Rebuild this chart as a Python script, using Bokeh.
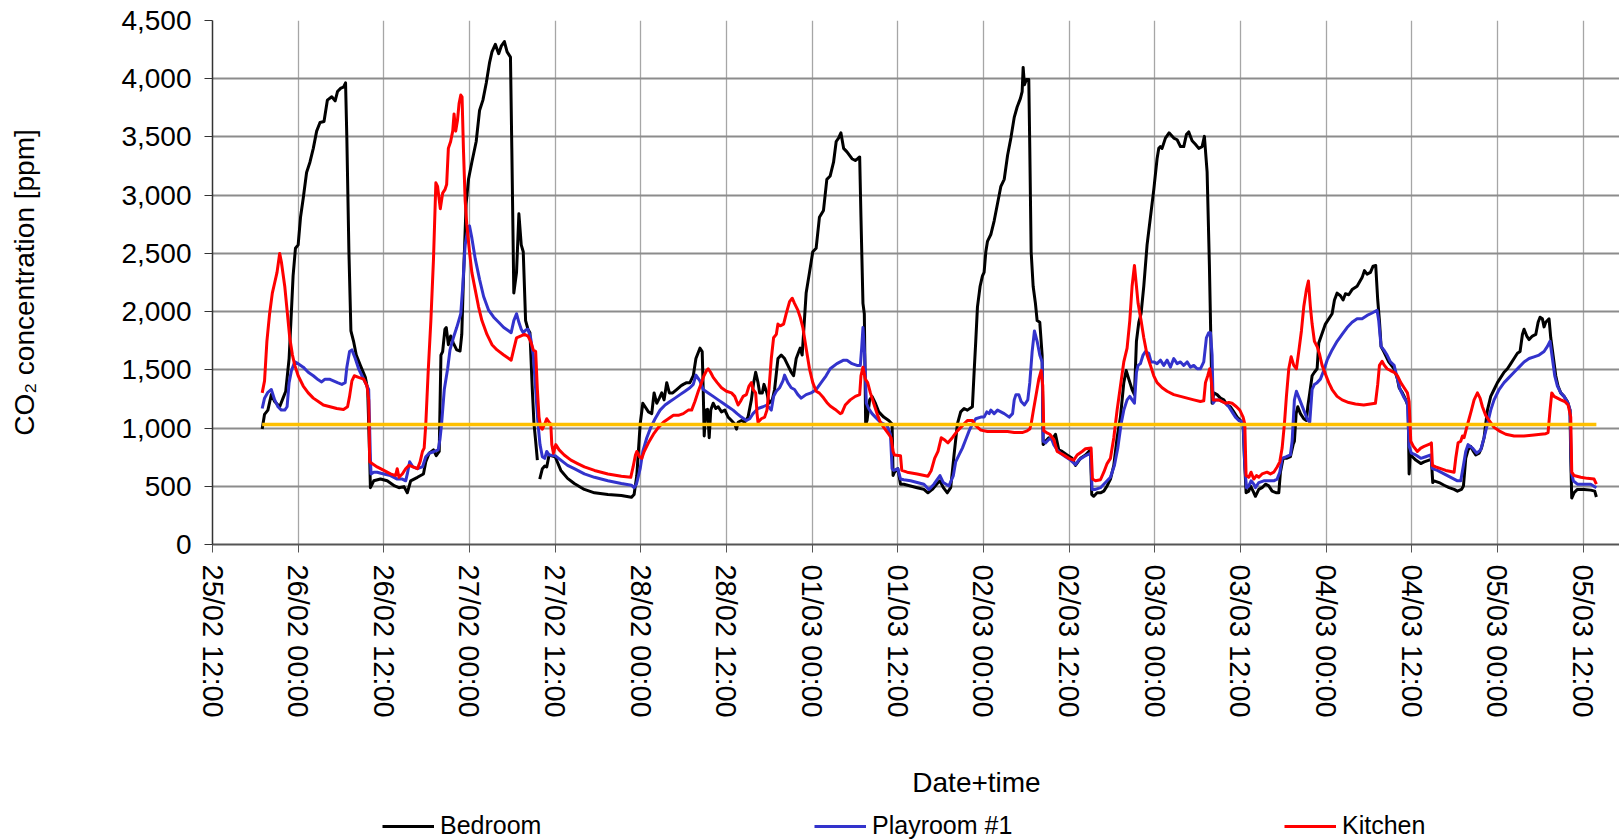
import math
import numpy as np
from bokeh.plotting import figure
from bokeh.layouts import column
from bokeh.models import (Range1d, FixedTicker, NumeralTickFormatter, Legend,
                          LegendItem, Label)
from bokeh.embed import file_html
from bokeh.resources import INLINE

# ---------------- data ----------------
# time axis: hours after 25/02 12:00
tick_hours = [0, 12, 24, 36, 48, 60, 72, 84, 96, 108, 120, 132, 144, 156, 168, 180, 192]
tick_labels = ["25/02 12:00", "26/02 00:00", "26/02 12:00", "27/02 00:00", "27/02 12:00",
               "28/02 00:00", "28/02 12:00", "01/03 00:00", "01/03 12:00", "02/03 00:00",
               "02/03 12:00", "03/03 00:00", "03/03 12:00", "04/03 00:00", "04/03 12:00",
               "05/03 00:00", "05/03 12:00"]
y_ticks = [0, 500, 1000, 1500, 2000, 2500, 3000, 3500, 4000, 4500]

NaN = float("nan")

bedroom_hours = [
    6.96, 7.29, 7.76, 8.24, 8.71, 9.41, 9.88, 10.26, 10.73, 11.06, 11.29, 11.62, 12.0, 12.33,
    12.71, 13.18, 13.65, 14.12, 14.59, 15.06, 15.62, 16.09, 16.71, 17.18, 17.51, 17.98, 18.35,
    18.64, 18.82, 19.11, 19.39, 19.76, 20.14, 20.71, 21.41, 21.74, 22.02, 22.12, 22.59, 23.53,
    24.47, 25.51, 26.12, 26.82, 27.29, 27.76, 28.71, 29.55, 29.88, 30.35, 30.96, 31.34, 31.76,
    32.0, 32.24, 32.56, 32.75, 33.04, 33.36, 33.74, 34.21, 34.68, 34.92, 35.15, 35.53, 35.86,
    36.33, 36.94, 37.41, 37.88, 38.35, 38.82, 39.15, 39.62, 40.09, 40.47, 40.89, 41.27, 41.74,
    41.93, 42.21, 42.59, 42.92, 43.25, 43.53, 43.86, 44.19, 44.47, 44.80, 45.04, 45.27, 45.51,
    45.67,
    45.84, 46.21, 46.54, 46.82, 47.15, 48.0, 48.8, 49.74, 50.68, 52.09, 53.51, 55.39, 57.27,
    58.68, 59.06, 59.44, 59.91, 60.28, 60.6, 61.07, 61.53, 61.86, 62.23, 62.6, 62.93, 63.26,
    63.63, 64.0, 64.47, 65.02, 65.58, 65.95, 66.42, 66.88, 67.35, 67.72, 68.28, 68.6, 68.74,
    68.88, 69.1, 69.35, 69.58, 69.8, 70.14, 70.51, 70.84, 71.3, 71.77, 72.23, 72.7, 73.16, 73.4,
    73.63, 74.09, 74.56, 75.02, 75.49, 75.81, 76.09, 76.42, 76.65, 77.02, 77.26, 77.67, 77.95,
    78.42, 78.74, 79.21, 79.67, 80.14, 80.6, 81.07, 81.4, 81.77, 82.14, 82.33, 82.6, 82.79,
    83.16, 83.63, 84.09, 84.56, 85.02, 85.59, 86.06, 86.53, 87.0, 87.37, 87.7, 88.03, 88.41,
    88.88, 89.58, 90.05, 90.37, 90.66, 90.84, 91.12, 91.31, 91.5, 91.69, 92.06, 92.39, 92.86,
    93.33, 94.03, 94.73, 95.2, 95.34, 95.53, 96.0, 96.38, 96.84, 97.78, 98.72, 99.66, 100.22,
    100.83, 101.44, 101.91, 102.38, 102.94, 103.41, 103.88, 104.35, 104.81, 105.28, 105.75,
    106.45, 106.69, 106.92, 107.16, 107.53, 107.86, 108.09, 108.33, 108.56, 109.03, 109.5,
    109.97, 110.44, 110.91, 111.38, 111.84, 112.31, 112.72, 113.18, 113.42, 113.56, 113.74,
    114.02, 114.35, 114.49, 114.68, 114.96, 115.28, 115.52, 115.89, 116.22, 116.36, 116.69,
    117.15, 117.62, 118.09, 118.55, 119.02, 119.72, 120.42, 120.89, 121.59, 122.29, 122.99,
    123.17, 123.45, 123.92, 124.39, 124.86, 125.32, 125.79, 126.26, 126.72, 127.19, 127.66,
    127.99, 128.36, 128.82, 129.15, 129.43, 129.76, 130.08, 130.46, 130.92, 131.39, 131.86,
    132.32, 132.56, 132.79, 133.02, 133.49, 134.0, 134.66, 135.13, 135.6, 136.06, 136.43,
    136.76, 137.23, 137.69, 138.16, 138.63, 138.95, 139.33, 139.65, 140.03, 140.27, 140.73,
    141.2, 141.67, 142.13, 142.6, 143.07, 143.53, 144.0, 144.37, 144.56, 144.79, 145.17, 145.4,
    145.77, 146.1, 146.57, 147.03, 147.5, 147.97, 148.44, 149.04, 149.37, 149.6, 149.98,
    150.44, 151.0, 151.38, 151.56, 151.8, 152.03, 152.4, 152.87, 153.24, 153.43, 153.71,
    154.04, 154.36, 154.74, 154.97, 155.9, 156.84, 157.17, 157.54, 158.01, 158.38, 158.71,
    159.17, 159.64, 160.34, 161.04, 161.37, 161.74, 162.21, 162.58, 162.95, 163.23, 163.47,
    163.7, 164.08, 164.77, 165.53, 166.0, 166.23, 166.69, 167.16, 167.49, 167.63, 167.77,
    168.09, 168.56, 169.26, 169.73, 170.43, 170.75, 170.94, 171.13, 171.83, 172.53, 173.23,
    173.93, 174.4, 174.96, 175.24, 175.56, 175.89, 176.26, 176.64, 176.96, 177.43, 177.76,
    178.13, 178.36, 178.6, 179.06, 179.53, 180.0, 180.47, 180.93, 181.4, 181.87, 182.33, 182.8,
    183.17, 183.5, 183.73, 184.11, 184.44, 184.9, 185.37, 185.7, 185.97, 186.3, 186.53, 186.77,
    187.0, 187.23, 187.47, 187.79, 188.17, 188.49, 188.87, 189.33, 189.8, 190.17, 190.27,
    190.41, 190.73, 191.2, 192.14, 193.07, 193.63, 193.86]
bedroom_ppm = [
    991, 1118, 1154, 1287, 1228, 1183, 1257, 1316, 1597, 2011, 2307, 2544, 2573, 2810,
    2973, 3195, 3283, 3402, 3550, 3624, 3632, 3816, 3845, 3810, 3890, 3919, 3928,
    3964, 3490, 2514, 1834, 1745, 1627, 1538, 1435, 1331, 740, 488, 547, 562,
    547, 503, 488, 497, 444, 547, 577, 606, 710, 784, 813, 763, 799,
    1627, 1657, 1849, 1863, 1716, 1790, 1730, 1671, 1662, 1804, 2278, 2928, 3136,
    3283, 3461, 3727, 3816, 3964, 4141, 4230, 4295, 4215, 4283, 4319, 4230, 4186,
    3402, 2159, 2337, 2840, 2573, 2514, 1923, 1849, 1819, 1331, 1035, 887, 725,
    NaN,
    562, 651, 674, 666, 769, 754, 636, 568, 524, 473, 444, 429, 420,
    405, 429, 592, 1035, 1213, 1183, 1139, 1124, 1302, 1213, 1257, 1302, 1242,
    1390, 1302, 1302, 1331, 1361, 1375, 1390, 1390, 1449, 1597, 1686, 1657, 1331,
    932, 1154, 1160, 917, 1154, 1213, 1168, 1183, 1139, 1154, 1094, 1065, 1035, 991,
    1050, 1065, 1050, 1094, 1242, 1390, 1479, 1390, 1302, 1302, 1375, 1302, 1213,
    1242, 1331, 1597, 1627, 1597, 1538, 1479, 1449, 1597, 1657, 1686, 1627, 1804,
    2159, 2337, 2514, 2544, 2810, 2869, 3136, 3165, 3283, 3461, 3490, 3535, 3402,
    3372, 3313, 3298, 3313, 3328, 2810, 2071, 1982, 1035, 1065, 1242, 1272, 1213,
    1139, 1094, 1065, 1035, 592, 621, 651, 518, 518, 503, 488, 473, 444,
    473, 518, 547, 488, 444, 488, 769, 1035, 1139, 1168, 1154,
    1183, 1479, 1745, 2041, 2218, 2307, 2337, 2514, 2603, 2662, 2780,
    2928, 3076, 3136, 3343, 3490, 3668, 3757, 3831, 3890, 4097, 3949,
    3993, 3993, 3402, 2514, 2218, 2071, 1923, 1908, 1627, 858, 887,
    917, 902, 947, 813, 799, 769, 740, 680, 740, 769, 813,
    429, 414, 444, 444, 458, 503, 562, 680, 917, 1094, 1390,
    1494, 1420, 1331, 1287, 1745, 1908, 1982, 2218, 2573, 2810, 3047,
    3313, 3402, 3417, 3402, 3490, 3535, 3490, 3476, 3417, 3417, 3520,
    3543, 3467, 3437, 3402, 3417, 3505, 3200, 2400, 1213, 1302, 1287,
    1257, 1242, 1198, 1183, 1139, 1094, 1065, 1035, 740, 444, 458, 503,
    458, 414, 473, 488, 518, 503, 458, 444, 444, 621, 740,
    740, 754, 858, 887, 1124, 1183, 1124, 1080, 1065, 1183, 1302,
    1449, 1479, 1509, 1730, 1893, 1982, 2100, 2159, 2136, 2100, 2153,
    2145, 2189, 2218, 2292, 2352, 2322, 2337, 2390, 2396, 2100, 1923,
    1701, 1657, 1568, 1509, 1420, 1346, 1302, 1242, 1183, 606, 769,
    754, 725, 695, 710, 725, 725, 532, 547, 532, 509, 488,
    473, 458, 473, 503, 740, 813, 843, 799, 769, 784, 828,
    917, 1035, 1154, 1272, 1331, 1390, 1435, 1479, 1509, 1553, 1597, 1642,
    1657, 1804, 1849, 1790, 1760, 1790, 1804, 1908, 1952, 1938, 1869, 1908,
    1923, 1938, 1775, 1627, 1449, 1361, 1302, 1272, 1228, 1154, 740,
    399, 444, 473, 473, 467, 458, 408]

playroom_hours = [
    6.96, 7.29, 7.76, 8.24, 8.71, 9.18, 9.65, 10.12, 10.45, 10.73, 11.06, 11.53, 12.0, 12.71,
    13.41, 14.12, 14.82, 15.29, 15.76, 16.38, 16.94, 17.51, 18.12, 18.59, 18.82, 19.2, 19.53,
    20.0, 20.47, 20.94, 21.41, 21.88, 22.12, 22.21, 22.59, 23.06, 24.0, 24.94, 25.88, 26.59,
    27.06, 27.29, 27.62, 28.09, 28.71, 29.41, 29.88, 30.35, 31.06, 31.62, 31.86, 32.09, 32.47,
    32.94, 33.27, 33.74, 34.21, 34.78, 35.06, 35.39, 35.72, 36.0, 36.33, 36.8, 37.41, 37.98,
    38.68, 39.39, 40.09, 40.8, 41.51, 41.84, 42.21, 42.59, 42.92, 43.25, 43.53, 43.86, 44.19,
    44.56, 44.94, 45.27, 45.6, 45.88, 46.21, 46.54, 46.82, 47.15, 48.0, 48.8, 49.74, 50.68,
    52.09, 53.51, 55.39, 57.27, 58.68, 59.06, 59.39, 59.91, 60.28, 60.84, 61.4, 62.0, 62.7,
    63.4, 64.09, 64.79, 65.49, 66.19, 66.88, 67.35, 67.72, 68.28, 68.74, 69.44, 70.14, 70.84,
    71.53, 72.23, 72.93, 73.49, 74.09, 74.79, 75.26, 75.72, 76.42, 77.12, 77.67, 78.28, 78.6,
    78.98, 79.44, 79.91, 80.14, 80.6, 81.07, 81.53, 82.0, 82.47, 83.16, 83.86, 84.56, 85.26,
    85.95, 86.53, 87.47, 88.41, 88.88, 89.58, 90.28, 90.75, 90.94, 91.12, 91.36, 91.59, 91.92,
    92.39, 92.86, 93.56, 94.5, 94.97, 95.2, 95.44, 96.0, 96.38, 96.84, 97.78, 98.72, 99.66,
    100.36, 101.06, 101.91, 102.38, 103.17, 103.78, 104.11, 104.58, 105.05, 105.52, 105.99,
    106.45, 106.92, 107.63, 108.09, 108.47, 108.8, 109.03, 109.5, 109.97, 110.44, 110.91,
    111.61, 112.08, 112.31, 112.55, 112.95, 113.28, 113.74, 114.21, 114.49, 114.82, 115.14,
    115.52, 115.89, 116.22, 116.36, 116.69, 117.15, 117.48, 117.85, 118.32, 118.79, 119.49,
    120.19, 120.89, 121.35, 122.05, 122.99, 123.22, 123.69, 124.39, 125.09, 125.79, 126.35,
    126.82, 127.28, 127.66, 128.12, 128.5, 128.82, 129.15, 129.43, 129.66, 129.99, 130.36,
    130.69, 131.16, 131.48, 131.86, 132.32, 132.79, 133.26, 133.73, 134.19, 134.66, 135.13,
    135.6, 136.06, 136.53, 137.0, 137.46, 137.93, 138.39, 138.86, 139.23, 139.56, 139.8,
    140.03, 140.17, 140.5, 140.97, 141.43, 141.9, 142.37, 142.83, 143.3, 143.77, 144.37,
    144.61, 144.84, 145.17, 145.49, 145.87, 146.1, 146.57, 147.27, 147.97, 148.67, 149.14,
    149.51, 149.84, 150.44, 151.0, 151.24, 151.56, 151.84, 152.31, 152.87, 153.34, 153.71,
    154.04, 154.36, 154.74, 155.2, 155.67, 156.14, 156.84, 157.54, 158.24, 158.94, 159.64,
    160.34, 161.04, 161.74, 162.44, 163.14, 163.37, 163.7, 164.08, 164.54, 165.01, 165.53,
    166.0, 166.37, 166.83, 167.39, 167.63, 167.95, 168.56, 169.26, 169.96, 170.66, 170.89,
    171.59, 172.53, 173.46, 174.4, 174.86, 175.24, 175.56, 175.89, 176.5, 177.1, 177.66,
    178.13, 178.6, 179.06, 179.53, 180.23, 180.93, 181.64, 182.33, 183.03, 183.73, 184.44,
    185.13, 185.83, 186.53, 187.0, 187.37, 187.7, 188.03, 188.4, 188.87, 189.33, 189.9,
    190.17, 190.36, 190.64, 191.2, 192.14, 193.07, 193.86]
playroom_ppm = [
    1168, 1257, 1307, 1331, 1242, 1183, 1154, 1154, 1183, 1390, 1494, 1568, 1553, 1523,
    1479, 1449, 1414, 1396, 1420, 1420, 1405, 1390, 1375, 1390, 1523, 1657, 1671,
    1597, 1509, 1449, 1390, 1331, 740, 606, 621, 621, 606, 592, 562, 562,
    547, 606, 710, 666, 651, 666, 754, 784, 799, 813, 902, 1035, 1331,
    1509, 1671, 1775, 1863, 1982, 2218, 2573, 2692, 2736, 2633, 2455, 2277, 2130,
    2012, 1952, 1908, 1863, 1834, 1819, 1923, 1982, 1908, 1849, 1819, 1840, 1849,
    1775, 1627, 1331, 1035, 858, 754, 740, 799, 769, 763, 725, 680, 651,
    606, 577, 547, 524, 509, 488, 518, 651, 799, 917, 1006, 1080, 1154,
    1198, 1228, 1257, 1287, 1316, 1346, 1375, 1455, 1405, 1331, 1302, 1272, 1242,
    1213, 1183, 1154, 1124, 1094, 1065, 1080, 1124, 1168, 1183, 1198, 1154, 1272,
    1316, 1346, 1405, 1455, 1390, 1346, 1331, 1287, 1257, 1287, 1302, 1331, 1390,
    1449, 1509, 1553, 1583, 1583, 1553, 1538, 1538, 1686, 1863, 1627, 1213, 1168,
    1124, 1094, 1050, 1021, 947, 651, 636, 651, 562, 556, 547, 532, 518,
    473, 518, 592, 532, 503, 592, 710, 769, 828, 902, 976,
    1035, 1080, 1094, 1094, 1139, 1124, 1154, 1124, 1154, 1139, 1124,
    1094, 1124, 1242, 1287, 1287, 1228, 1198, 1242, 1390, 1657, 1834,
    1745, 1627, 1568, 887, 873, 902, 917, 858, 813, 784, 754,
    725, 686, 725, 754, 784, 473, 473, 488, 532, 577, 680,
    828, 1035, 1154, 1242, 1272, 1242, 1213, 1479, 1538, 1553, 1627,
    1657, 1642, 1568, 1568, 1553, 1583, 1538, 1583, 1523, 1597, 1553,
    1568, 1538, 1568, 1523, 1538, 1509, 1509, 1568, 1775, 1819, 1819,
    1627, 1213, 1242, 1242, 1228, 1213, 1183, 1139, 1094, 1065, 1050,
    680, 488, 503, 547, 518, 488, 532, 547, 547, 547, 562,
    621, 740, 754, 769, 887, 1242, 1316, 1242, 1154, 1080, 1050,
    1331, 1375, 1390, 1420, 1494, 1583, 1671, 1745, 1804, 1863, 1908,
    1938, 1938, 1967, 1988, 2012, 1923, 1701, 1671, 1627, 1568, 1538,
    1420, 1331, 1272, 1213, 843, 784, 769, 740, 754, 769, 651,
    636, 606, 577, 547, 547, 680, 799, 858, 828, 784, 813,
    917, 1035, 1154, 1242, 1331, 1390, 1435, 1479, 1523, 1568, 1597,
    1612, 1627, 1657, 1701, 1745, 1597, 1449, 1361, 1302, 1272, 1213,
    1154, 621, 547, 518, 518, 518, 488]

kitchen_hours = [
    6.96, 7.29, 7.62, 8.0, 8.38, 8.71, 9.04, 9.41, 9.65, 10.12, 10.45, 10.82, 11.2, 11.53, 12.0,
    12.71, 13.41, 14.12, 14.82, 15.53, 16.47, 17.41, 18.35, 18.92, 19.2, 19.53, 19.86, 20.47,
    21.18, 21.65, 21.88, 22.02, 22.35, 23.06, 24.0, 24.94, 25.65, 25.88, 26.12, 26.59, 27.06,
    27.53, 28.09, 28.71, 29.08, 29.41, 29.65, 29.88, 30.21, 30.59, 30.96, 31.29, 31.53, 31.91,
    32.24, 32.56, 32.8, 33.04, 33.36, 33.65, 33.84, 34.07, 34.31, 34.54, 34.78, 34.96, 35.15,
    35.39, 35.62, 36.0, 36.33, 36.8, 37.27, 37.74, 38.45, 39.15, 39.86, 40.8, 41.51, 41.84,
    42.12, 42.59, 43.15, 43.72, 44.19, 44.56, 44.94, 45.27, 45.51, 45.74, 45.98, 46.21, 46.54,
    46.82, 47.15, 47.39, 47.53, 47.76, 48.09, 48.56, 49.27, 50.21, 51.15, 52.09, 53.51, 55.39,
    57.27, 58.59, 58.92, 59.25, 59.44, 59.81, 60.14, 60.47, 61.07, 61.77, 62.47, 63.16, 63.86,
    64.56, 65.26, 65.95, 66.65, 67.12, 67.58, 68.05, 68.51, 68.84, 69.21, 69.44, 69.77, 70.14,
    70.7, 71.3, 72.0, 72.7, 73.16, 73.63, 73.95, 74.33, 74.79, 75.16, 75.49, 75.72, 76.09,
    76.28, 76.42, 76.88, 77.35, 77.67, 77.95, 78.28, 78.6, 78.98, 79.21, 79.53, 80.0, 80.37,
    80.84, 81.21, 81.53, 82.0, 82.33, 82.7, 83.16, 83.63, 84.09, 84.56, 85.02, 85.59, 86.06,
    86.53, 87.23, 87.94, 88.17, 88.64, 89.34, 90.05, 90.66, 90.84, 91.12, 91.45, 91.78, 92.16,
    92.62, 93.09, 93.56, 94.03, 94.73, 95.06, 95.34, 95.53, 96.38, 96.56, 97.31, 98.72, 100.22,
    100.69, 101.16, 101.63, 102.09, 102.47, 103.03, 103.64, 104.35, 105.05, 105.75, 106.45,
    106.92, 107.63, 108.56, 109.97, 111.38, 112.31, 113.42, 114.12, 114.49, 114.68, 114.96,
    115.42, 115.75, 116.08, 116.31, 116.45, 116.83, 117.29, 117.85, 118.32, 118.79, 119.25,
    119.95, 120.65, 121.12, 121.82, 122.29, 123.08, 123.27, 123.69, 124.39, 124.86, 125.32,
    125.79, 126.26, 126.72, 127.19, 127.66, 128.12, 128.5, 128.82, 129.15, 129.43, 129.66,
    130.08, 130.46, 130.92, 131.39, 131.86, 132.32, 133.03, 133.73, 134.66, 135.6, 136.53,
    137.46, 138.39, 138.86, 139.1, 139.42, 139.7, 139.94, 140.17, 140.97, 141.43, 141.9,
    142.37, 142.83, 143.44, 143.91, 144.37, 144.61, 144.79, 145.17, 145.49, 145.87, 146.24,
    146.57, 147.03, 147.73, 148.2, 148.67, 149.14, 149.51, 149.84, 150.16, 150.44, 150.77,
    151.1, 151.47, 151.84, 152.17, 152.54, 152.87, 153.24, 153.52, 153.8, 154.04, 154.36,
    154.74, 155.11, 155.44, 155.9, 156.37, 156.84, 157.54, 158.24, 159.17, 160.11, 161.27,
    162.21, 162.91, 163.23, 163.47, 163.84, 164.17, 164.54, 165.01, 165.53, 166.0, 166.46,
    166.93, 167.39, 167.63, 167.86, 168.23, 168.79, 169.26, 169.73, 170.57, 170.75, 170.89,
    171.36, 172.06, 172.76, 173.46, 173.93, 174.16, 174.49, 174.86, 175.1, 175.33, 175.7,
    176.03, 176.36, 176.73, 177.2, 177.57, 177.9, 178.36, 178.83, 179.53, 180.23, 181.17,
    182.33, 183.73, 185.13, 186.07, 186.77, 187.09, 187.37, 187.61, 187.93, 188.4, 188.87,
    189.43, 189.9, 190.27, 190.41, 190.73, 191.67, 192.6, 193.54, 193.86]
kitchen_ppm = [
    1302, 1405, 1745, 1982, 2159, 2248, 2337, 2500, 2426, 2218, 2011, 1775, 1627, 1538, 1449,
    1361, 1302, 1257, 1228, 1198, 1183, 1168, 1160, 1183, 1272, 1405, 1449, 1435,
    1420, 1361, 1242, 710, 695, 666, 636, 606, 592, 651, 577, 606, 651,
    680, 666, 651, 710, 799, 828, 1035, 1479, 1923, 2455, 3106, 3076, 2884,
    3017, 3047, 3091, 3402, 3461, 3550, 3698, 3550, 3638, 3786, 3860, 3845, 3402,
    2958, 2751, 2514, 2337, 2189, 2041, 1923, 1804, 1716, 1671, 1627, 1597, 1583,
    1657, 1775, 1790, 1804, 1790, 1745, 1671, 1657, 1331, 1094, 1006, 991, 1035,
    1080, 1050, 1035, 858, 784, 858, 813, 769, 725, 695, 666, 636, 606,
    586, 577, 666, 769, 799, 754, 740, 799, 873, 947, 1006, 1050, 1080,
    1109, 1109, 1124, 1154, 1154, 1228, 1316, 1390, 1449, 1494, 1509, 1479, 1435,
    1390, 1346, 1316, 1302, 1272, 1198, 1228, 1272, 1287, 1361, 1390, 1331, 1302,
    1124, 1050, 1080, 1094, 1154, 1331, 1597, 1775, 1804, 1893, 1878, 1893, 1982,
    2085, 2115, 2071, 2012, 1952, 1863, 1686, 1509, 1390, 1316, 1300, 1260, 1220,
    1190, 1160, 1124, 1130, 1198, 1242, 1272, 1287, 1449, 1523, 1420, 1390, 1302,
    1213, 1124, 1050, 1006, 947, 917, 799, 769, 763, 636, 621, 606, 586,
    636, 740, 799, 917, 902, 873, 917, 976, 1021, 1065, 1065,
    1021, 982, 970, 970, 970, 961, 961, 976, 991, 1035, 1139,
    1302, 1420, 1494, 1361, 976, 961, 947, 902, 799, 784, 769,
    740, 725, 769, 799, 822, 828, 562, 547, 556, 621, 695,
    740, 917, 1154, 1361, 1568, 1686, 1923, 2218, 2396, 2218, 2071,
    1923, 1775, 1627, 1538, 1449, 1390, 1346, 1316, 1287, 1272, 1257,
    1242, 1228, 1234, 1390, 1449, 1509, 1390, 1242, 1242, 1228, 1213,
    1219, 1213, 1183, 1154, 1094, 1035, 592, 577, 621, 562, 592,
    577, 606, 621, 606, 621, 666, 710, 828, 1035, 1272, 1509,
    1612, 1538, 1509, 1657, 1834, 2041, 2189, 2263, 2041, 1893, 1745,
    1701, 1627, 1538, 1464, 1390, 1331, 1272, 1242, 1219, 1207, 1198,
    1207, 1213, 1375, 1538, 1573, 1538, 1509, 1494, 1479, 1449, 1390,
    1346, 1302, 1228, 887, 843, 799, 828, 843, 864, 873, 680,
    666, 651, 636, 627, 621, 740, 873, 887, 932, 917, 1006,
    1080, 1154, 1242, 1302, 1257, 1183, 1109, 1065, 1006, 976, 947,
    932, 932, 941, 947, 952, 961, 1154, 1302, 1272, 1257, 1242,
    1228, 1198, 1094, 621, 592, 577, 568, 562, 518]

limit_hours = [6.96, 193.86]
limit_ppm = [1030, 1030]

series_names = ["Bedroom", "Playroom #1", "Kitchen"]
series_colors = ["#000000", "#3333CC", "#FF0000"]

# ---------------- main figure ----------------
FONT = "Liberation Sans"
W = 1619
H_MAIN = 724
H_FOOT = 116
FRAME_LEFT = 212

p = figure(width=W, height=H_MAIN, output_backend="svg", toolbar_location=None,
           x_range=Range1d(0, 197.1), y_range=Range1d(0, 4500),
           min_border_left=FRAME_LEFT, min_border_right=0, min_border_top=20,
           min_border_bottom=180)
p.outline_line_color = None
p.background_fill_color = "white"

# grids
p.xgrid.ticker = FixedTicker(ticks=tick_hours)
p.ygrid.ticker = FixedTicker(ticks=y_ticks)
p.xgrid.grid_line_color = "#a6a6a6"
p.xgrid.grid_line_width = 1.3
p.ygrid.grid_line_color = "#8c8c8c"
p.ygrid.grid_line_width = 1.8

# x axis
xa = p.xaxis[0]
xa.ticker = FixedTicker(ticks=tick_hours)
xa.major_label_overrides = {h: lab for h, lab in zip(tick_hours, tick_labels)}
xa.major_label_orientation = -math.pi / 2
xa.major_label_text_font = FONT
xa.major_label_text_font_size = "29px"
xa.major_label_text_color = "black"
xa.major_label_standoff = 12
xa.major_tick_out = 8
xa.major_tick_in = 0
xa.minor_tick_out = 0
xa.minor_tick_in = 0
xa.axis_line_color = "#555555"
xa.axis_line_width = 2
xa.major_tick_line_color = "#555555"

# y axis
ya = p.yaxis[0]
ya.ticker = FixedTicker(ticks=y_ticks)
ya.formatter = NumeralTickFormatter(format="0,0")
ya.major_label_text_font = FONT
ya.major_label_text_font_size = "28px"
ya.major_label_text_color = "black"
ya.major_label_standoff = 13
ya.major_tick_out = 8
ya.major_tick_in = 0
ya.minor_tick_out = 0
ya.minor_tick_in = 0
ya.axis_line_color = "#333333"
ya.axis_line_width = 1.5
ya.major_tick_line_color = "#333333"
ya.axis_label = "CO\u2082 concentration [ppm]"
ya.axis_label_text_font = FONT
ya.axis_label_text_font_size = "28px"
ya.axis_label_text_font_style = "normal"
ya.axis_label_text_color = "black"
ya.axis_label_standoff = 78

# lines
for xs, ys, col in [(bedroom_hours, bedroom_ppm, series_colors[0]),
                    (playroom_hours, playroom_ppm, series_colors[1]),
                    (kitchen_hours, kitchen_ppm, series_colors[2])]:
    p.line(np.array(xs, dtype=float), np.array(ys, dtype=float),
           line_color=col, line_width=3, line_join="round")

p.line(limit_hours, limit_ppm, line_color="#FFC000", line_width=3.5)

# ---------------- footer: axis title + legend ----------------
# (its frame is aligned with the main frame, so x offsets are from FRAME_LEFT)
f = figure(width=W, height=H_FOOT, output_backend="svg", toolbar_location=None,
           x_range=Range1d(0, 1), y_range=Range1d(0, 1),
           x_axis_location=None, y_axis_location=None, min_border=0)
f.outline_line_color = None
f.xgrid.visible = False
f.ygrid.visible = False

f.add_layout(Label(x=976 - FRAME_LEFT, y=H_FOOT - 58, x_units="screen", y_units="screen",
                   text="Date+time", text_align="center", text_baseline="middle",
                   text_font=FONT, text_font_size="28px", text_color="black"))

for name, col, xpage in zip(series_names, series_colors, [382, 814, 1284]):
    key = f.line(x=[NaN], y=[NaN], line_color=col, line_width=3)
    lg = Legend(items=[LegendItem(label=name, renderers=[key])],
                location=(xpage - FRAME_LEFT, 0), orientation="horizontal",
                padding=0, margin=0, spacing=0,
                glyph_width=52, glyph_height=20, label_standoff=6,
                label_text_font=FONT, label_text_font_size="25px",
                label_text_color="black",
                border_line_color=None, background_fill_alpha=0)
    f.add_layout(lg, "center")

open("out.html", "w").write(file_html(column(p, f, spacing=0), INLINE))
